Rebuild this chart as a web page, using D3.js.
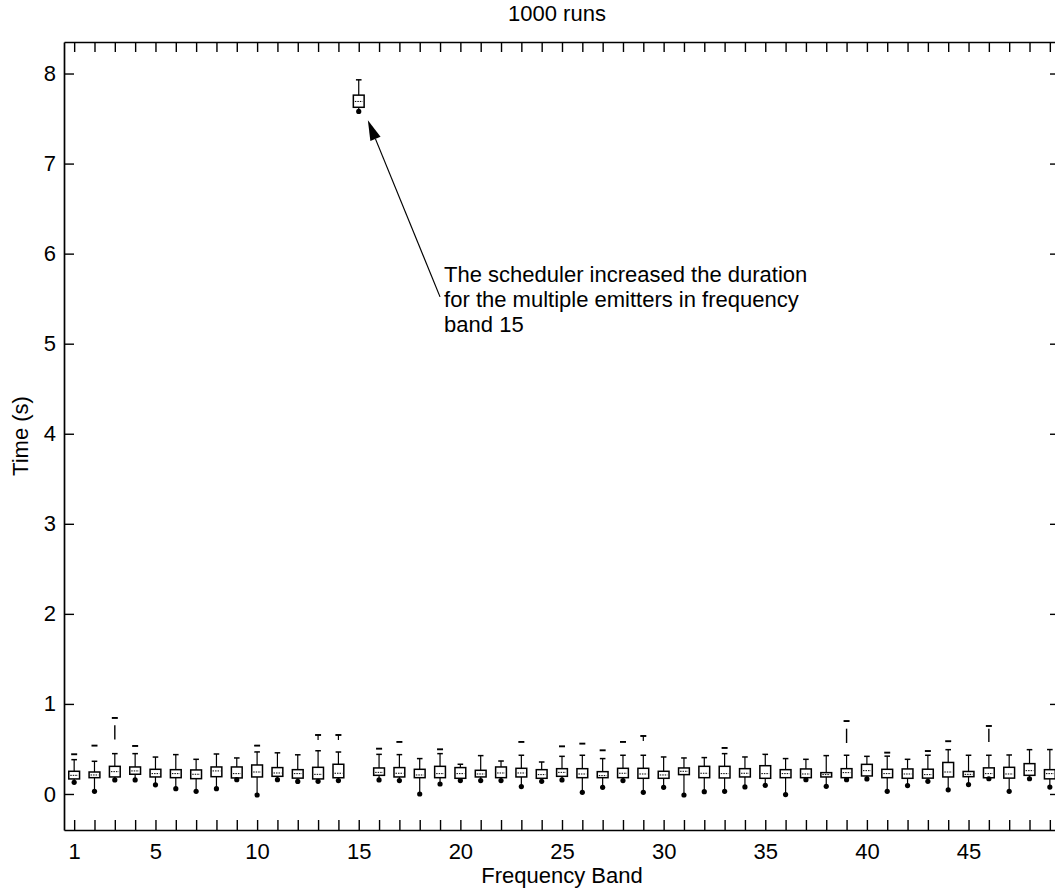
<!DOCTYPE html>
<html>
<head>
<meta charset="utf-8">
<script src="https://cdn.jsdelivr.net/npm/d3@7/dist/d3.min.js"></script>
<style>
  html, body { margin: 0; padding: 0; background: #fff; }
  svg { display: block; }
  text { font-family: "Liberation Sans", Arial, Helvetica, sans-serif; fill: #000; }
</style>
</head>
<body>
<svg id="chart" width="1055" height="890"></svg>
<script>
// Frequency bands (one box per band)
const bands = [1,2,3,4,5,6,7,8,9,10,11,12,13,14,15,16,17,18,19,20,21,22,23,24,25,
               26,27,28,29,30,31,32,33,34,35,36,37,38,39,40,41,42,43,44,45,46,47,48,49];
const xTickLabels = [1,5,10,15,20,25,30,35,40,45];
const yTicks = [0,1,2,3,4,5,6,7,8];

// Box statistics per band (seconds)
const q1 = [0.167,0.181,0.189,0.219,0.189,0.181,0.170,0.192,0.178,0.189,
            0.196,0.176,0.167,0.180,7.625,0.207,0.189,0.181,0.181,0.174,
            0.189,0.181,0.189,0.174,0.196,0.181,0.181,0.181,0.174,0.174,
            0.215,0.181,0.178,0.189,0.174,0.181,0.181,0.189,0.181,0.200,
            0.181,0.174,0.176,0.189,0.192,0.180,0.176,0.207,0.168];
const median = [0.207,0.211,0.248,0.256,0.226,0.226,0.219,0.256,0.226,0.244,
            0.233,0.226,0.218,0.230,7.690,0.240,0.230,0.211,0.226,0.226,
            0.222,0.233,0.233,0.215,0.240,0.222,0.204,0.230,0.222,0.211,
            0.252,0.230,0.226,0.230,0.226,0.226,0.222,0.215,0.237,0.259,
            0.226,0.222,0.215,0.244,0.218,0.226,0.222,0.259,0.226];
const q3 = [0.252,0.244,0.307,0.300,0.274,0.270,0.267,0.300,0.300,0.322,
            0.293,0.270,0.296,0.330,7.760,0.289,0.293,0.274,0.307,0.293,
            0.263,0.300,0.285,0.270,0.281,0.281,0.248,0.285,0.285,0.252,
            0.289,0.307,0.307,0.281,0.314,0.270,0.278,0.237,0.281,0.329,
            0.274,0.278,0.275,0.350,0.250,0.290,0.296,0.337,0.270];
// Upper whisker end
const whiskerHigh = [0.381,0.363,0.448,0.448,0.410,0.437,0.385,0.444,0.400,0.467,
            0.457,0.435,0.480,0.466,7.930,0.440,0.437,0.393,0.448,0.330,
            0.426,0.366,0.430,0.355,0.418,0.430,0.393,0.430,0.430,0.411,
            0.400,0.404,0.448,0.411,0.440,0.393,0.385,0.426,0.430,0.418,
            0.420,0.385,0.430,0.492,0.430,0.430,0.433,0.492,0.493];
// Minimum (lower whisker end, drawn as a dot)
const minimum = [0.141,0.041,0.167,0.167,0.113,0.070,0.041,0.070,0.170,0.000,
            0.170,0.150,0.152,0.160,7.590,0.167,0.160,0.011,0.122,0.160,
            0.160,0.160,0.093,0.152,0.167,0.030,0.085,0.160,0.030,0.085,
            0.000,0.037,0.041,0.089,0.107,0.004,0.170,0.096,0.170,0.178,
            0.041,0.104,0.152,0.057,0.115,0.180,0.040,0.180,0.088];
// Largest outlier (null where none)
const maxOutlier = [0.441,0.537,0.844,0.533,null,null,null,null,null,0.537,
            null,null,0.655,0.655,null,0.503,0.578,null,0.496,null,
            null,null,0.578,null,0.529,0.559,0.485,0.578,0.644,null,
            null,null,0.511,null,null,null,null,null,0.810,null,
            0.459,null,0.477,0.586,null,0.755,null,null,null];
// Bands whose outlier mark carries a short stem
const stemmedOutlierBands = [13, 14, 29];
// Dense runs of outliers, drawn as a vertical stroke
const outlierBands = [3, 39, 46];
const outlierLow = [0.604, 0.566, 0.577];
const outlierHigh = [0.763, 0.725, 0.725];

const annotationLines = [
  "The scheduler increased the duration",
  "for the multiple emitters in frequency",
  "band 15"
];

const svg = d3.select("#chart");
const W = 1055, H = 890;
const plotLeft = 64, plotRight = 1060, plotTop = 42, plotBottom = 830;

svg.append("rect").attr("width", W).attr("height", H).attr("fill", "#fff");

const x = d3.scaleLinear().domain([0.5, 49.5]).range([plotLeft, plotRight]);
const y = d3.scaleLinear().domain([-0.4, 8.35]).range([plotBottom, plotTop]);

const fontSize = 22;

// Axes: ticks point inward on all four sides
const gx = svg.append("g").attr("transform", `translate(0,${plotBottom})`)
  .call(d3.axisBottom(x).tickValues(bands).tickSizeInner(-10).tickSizeOuter(0).tickPadding(8)
    .tickFormat(d => xTickLabels.includes(d) ? d : ""));
const gxTop = svg.append("g").attr("transform", `translate(0,${plotTop})`)
  .call(d3.axisTop(x).tickValues(bands).tickSizeInner(-10).tickSizeOuter(0).tickFormat(""));
const gy = svg.append("g").attr("transform", `translate(${plotLeft},0)`)
  .call(d3.axisLeft(y).tickValues(yTicks).tickSizeInner(-10).tickSizeOuter(0).tickPadding(8));
const gyRight = svg.append("g").attr("transform", `translate(${plotRight},0)`)
  .call(d3.axisRight(y).tickValues(yTicks).tickSizeInner(-10).tickSizeOuter(0).tickFormat(""));

[gx, gxTop, gy, gyRight].forEach(g => {
  g.select(".domain").attr("stroke", "#000").attr("stroke-width", 1.7);
  g.selectAll(".tick line").attr("stroke", "#000").attr("stroke-width", 1.4);
  g.selectAll(".tick text").attr("font-size", fontSize)
    .attr("font-family", "'Liberation Sans', Arial, sans-serif").attr("fill", "#000");
});
gx.selectAll(".tick text").attr("dy", "0.95em");

// Box plots
const halfBox = 5.4, capHalf = 2.8, dashHalf = 3;
const data = bands.map((b, i) => ({
  band: b, q1: q1[i], med: median[i], q3: q3[i],
  hi: whiskerHigh[i], lo: minimum[i], out: maxOutlier[i]
}));

const g = svg.append("g").attr("stroke", "#000").attr("fill", "none");
const box = g.selectAll("g.box").data(data).join("g").attr("class", "box");

// upper whisker
box.append("line")
  .attr("x1", d => x(d.band)).attr("x2", d => x(d.band))
  .attr("y1", d => y(d.q3)).attr("y2", d => y(d.hi))
  .attr("stroke-width", 1.2);
// upper cap
box.append("line")
  .attr("x1", d => x(d.band) - capHalf).attr("x2", d => x(d.band) + capHalf)
  .attr("y1", d => y(d.hi)).attr("y2", d => y(d.hi))
  .attr("stroke-width", 1.5);
// lower whisker
box.append("line")
  .attr("x1", d => x(d.band)).attr("x2", d => x(d.band))
  .attr("y1", d => y(d.q1)).attr("y2", d => y(d.lo))
  .attr("stroke-width", 1.2);
// box
box.append("rect")
  .attr("x", d => x(d.band) - halfBox).attr("width", halfBox * 2)
  .attr("y", d => y(d.q3)).attr("height", d => y(d.q1) - y(d.q3))
  .attr("fill", "#fff").attr("stroke-width", 1.5);
// median (dotted)
box.append("line")
  .attr("x1", d => x(d.band) - halfBox + 1.5).attr("x2", d => x(d.band) + halfBox - 1.5)
  .attr("y1", d => y(d.med)).attr("y2", d => y(d.med))
  .attr("stroke-width", 1).attr("stroke-dasharray", "1.5,1");
// minimum dot
box.append("circle")
  .attr("cx", d => x(d.band)).attr("cy", d => y(d.lo) + 1)
  .attr("r", 2.6).attr("fill", "#000").attr("stroke", "none");
// largest outlier dash
const outs = data.filter(d => d.out !== null);
g.selectAll("line.out").data(outs).join("line")
  .attr("class", "out")
  .attr("x1", d => x(d.band) - dashHalf).attr("x2", d => x(d.band) + dashHalf)
  .attr("y1", d => y(d.out)).attr("y2", d => y(d.out))
  .attr("stroke-width", 1.9);
g.selectAll("line.stem").data(outs.filter(d => stemmedOutlierBands.includes(d.band))).join("line")
  .attr("class", "stem")
  .attr("x1", d => x(d.band)).attr("x2", d => x(d.band))
  .attr("y1", d => y(d.out)).attr("y2", d => y(d.out) + 5)
  .attr("stroke-width", 1.2);
// dense outlier runs
g.selectAll("line.run").data(outlierBands.map((b, i) => ({ band: b, lo: outlierLow[i], hi: outlierHigh[i] })))
  .join("line").attr("class", "run")
  .attr("x1", d => x(d.band)).attr("x2", d => x(d.band))
  .attr("y1", d => y(d.lo)).attr("y2", d => y(d.hi))
  .attr("stroke-width", 1.4);

// Title and axis labels
svg.append("text").attr("x", 557).attr("y", 21)
  .attr("text-anchor", "middle").attr("font-size", fontSize).text("1000 runs");
svg.append("text").attr("x", (plotLeft + plotRight) / 2).attr("y", 883)
  .attr("text-anchor", "middle").attr("font-size", fontSize).text("Frequency Band");
svg.append("text")
  .attr("transform", `translate(28,${(plotTop + plotBottom) / 2}) rotate(-90)`)
  .attr("text-anchor", "middle").attr("font-size", fontSize).text("Time (s)");

// Annotation arrow pointing at band 15
const tail = [x(19), y(5.52)];
const tip = [x(15.45), y(7.48)];
const ang = Math.atan2(tip[1] - tail[1], tip[0] - tail[0]);
const headLen = 20, headHalf = 5.5;
const base = [tip[0] - headLen * Math.cos(ang), tip[1] - headLen * Math.sin(ang)];
svg.append("line")
  .attr("x1", tail[0]).attr("y1", tail[1]).attr("x2", base[0]).attr("y2", base[1])
  .attr("stroke", "#000").attr("stroke-width", 1.2);
svg.append("polygon")
  .attr("points", [
    tip,
    [base[0] + headHalf * Math.sin(ang), base[1] - headHalf * Math.cos(ang)],
    [base[0] - headHalf * Math.sin(ang), base[1] + headHalf * Math.cos(ang)]
  ].map(p => p.join(",")).join(" "))
  .attr("fill", "#000");

const ann = svg.append("text").attr("x", x(19.2)).attr("y", y(5.69)).attr("font-size", fontSize);
annotationLines.forEach((t, i) => {
  ann.append("tspan").attr("x", x(19.2)).attr("dy", i === 0 ? 0 : 25).text(t);
});
</script>
</body>
</html>
